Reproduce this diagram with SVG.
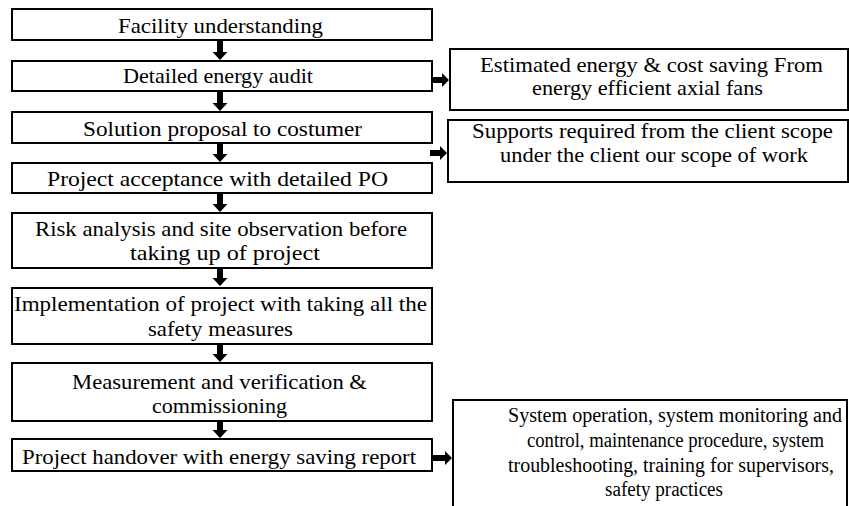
<svg xmlns="http://www.w3.org/2000/svg" width="849" height="506" viewBox="0 0 849 506">
<style>
.box{fill:#fff;stroke:#000;stroke-width:2}
.t{font-family:"Liberation Serif","Times New Roman",serif;font-size:22px;fill:#000}
.s{font-size:20px}
.arr{fill:#000}
</style>
<rect width="849" height="506" fill="#fff"/>
<g id="connectors">
<polygon class="arr" points="217,41 223,41 223,52 227.5,52 220,60 212.5,52 217,52"/>
<polygon class="arr" points="217,92 223,92 223,103 227.5,103 220,111 212.5,103 217,103"/>
<polygon class="arr" points="217,144 223,144 223,154 227.5,154 220,162 212.5,154 217,154"/>
<polygon class="arr" points="217,194 223,194 223,204 227.5,204 220,212 212.5,204 217,204"/>
<polygon class="arr" points="217,269 223,269 223,278 227.5,278 220,286 212.5,278 217,278"/>
<polygon class="arr" points="217,345 223,345 223,354 227.5,354 220,362 212.5,354 217,354"/>
<polygon class="arr" points="217,422 223,422 223,430 227.5,430 220,438 212.5,430 217,430"/>
<polygon class="arr" points="433,77 442,77 442,73 449,80 442,87 442,83 433,83"/>
<polygon class="arr" points="430,150 440,150 440,146 447,153 440,160 440,156 430,156"/>
<polygon class="arr" points="433,455 445,455 445,451 452,458 445,465 445,461 433,461"/>
</g>
<g id="n1"><rect class="box" x="12" y="9" width="420" height="31"/><text class="t" x="118" y="33" textLength="205" lengthAdjust="spacingAndGlyphs">Facility understanding</text></g>
<g id="n2"><rect class="box" x="12" y="61" width="420" height="30"/><text class="t" x="123" y="83" textLength="190" lengthAdjust="spacingAndGlyphs">Detailed energy audit</text></g>
<g id="n3"><rect class="box" x="12" y="112" width="420" height="31"/><text class="t" x="83" y="136" textLength="279" lengthAdjust="spacingAndGlyphs">Solution proposal to costumer</text></g>
<g id="n4"><rect class="box" x="12" y="163" width="420" height="30"/><text class="t" x="47" y="186" textLength="341" lengthAdjust="spacingAndGlyphs">Project acceptance with detailed PO</text></g>
<g id="n5"><rect class="box" x="12" y="213" width="420" height="55"/><text class="t" x="35" y="236" textLength="372" lengthAdjust="spacingAndGlyphs">Risk analysis and site observation before</text><text class="t" x="130" y="260" textLength="190" lengthAdjust="spacingAndGlyphs">taking up of project</text></g>
<g id="n6"><rect class="box" x="12" y="288" width="420" height="56"/><text class="t" x="14" y="311" textLength="413" lengthAdjust="spacingAndGlyphs">Implementation of project with taking all the</text><text class="t" x="148" y="336" textLength="145" lengthAdjust="spacingAndGlyphs">safety measures</text></g>
<g id="n7"><rect class="box" x="12" y="363" width="420" height="58"/><text class="t" x="72" y="389" textLength="295" lengthAdjust="spacingAndGlyphs">Measurement and verification &amp;</text><text class="t" x="152" y="413" textLength="135" lengthAdjust="spacingAndGlyphs">commissioning</text></g>
<g id="n8"><rect class="box" x="12" y="439" width="420" height="32"/><text class="t" x="22" y="464" textLength="394" lengthAdjust="spacingAndGlyphs">Project handover with energy saving report</text></g>
<g id="r1"><rect class="box" x="450" y="49" width="398" height="61"/><text class="t" x="480" y="72" textLength="343" lengthAdjust="spacingAndGlyphs">Estimated energy &amp; cost saving From</text><text class="t" x="532" y="95" textLength="231" lengthAdjust="spacingAndGlyphs">energy efficient axial fans</text></g>
<g id="r2"><rect class="box" x="448" y="120" width="400" height="62"/><text class="t" x="472" y="138" textLength="361" lengthAdjust="spacingAndGlyphs">Supports required from the client scope</text><text class="t" x="500" y="162" textLength="308" lengthAdjust="spacingAndGlyphs">under the client our scope of work</text></g>
<g id="r3"><rect class="box" x="453" y="400" width="394" height="112"/><text class="t s" x="508" y="422" textLength="334" lengthAdjust="spacingAndGlyphs">System operation, system monitoring and</text><text class="t s" x="527" y="447" textLength="297" lengthAdjust="spacingAndGlyphs">control, maintenance procedure, system</text><text class="t s" x="508" y="472" textLength="326" lengthAdjust="spacingAndGlyphs">troubleshooting, training for supervisors,</text><text class="t s" x="605" y="496" textLength="118" lengthAdjust="spacingAndGlyphs">safety practices</text></g>
</svg>
